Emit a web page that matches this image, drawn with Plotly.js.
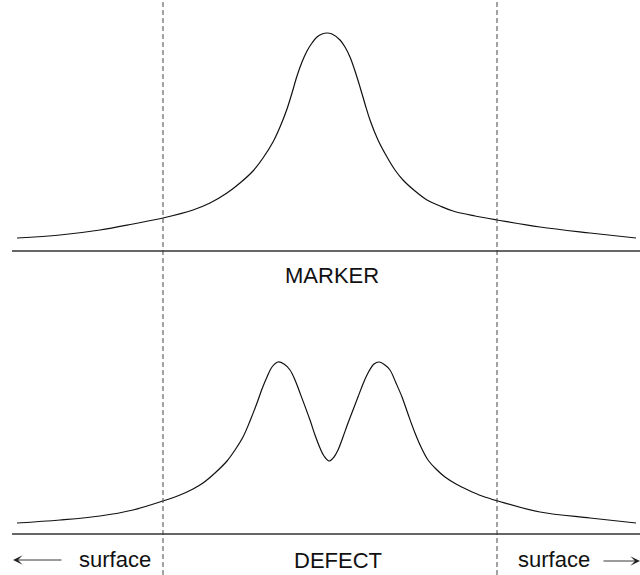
<!DOCTYPE html>
<html>
<head>
<meta charset="utf-8">
<script src="https://cdn.plot.ly/plotly-3.0.1.min.js"></script>
<style>html,body{margin:0;padding:0;background:#fff;}#chart{width:640px;height:575px;}</style>
</head>
<body>
<div id="chart"></div>
<script>
// Position along the sample (same scale for both panels)
const markerX = [17,60,100,133,163,193,210,227,240,253,263,273,280,287,292,297,302,307,312,317,322,327,332,340,345,350,355,360,365,370,378,387,395,403,415,427,440,453,475,497,540,590,636];
// MARKER profile: signal height above baseline
const markerSignal = [13,16,21,27,33,41,48,58,68,80,93,109,124,142,158,175,189,200,208,214,217,218,217,211,204,194,180,164,147,131,111,94,81,71,60,51,45,40,35,31,24,18,13];

const defectX = [17,60,100,133,163,180,193,203,215,227,235,243,250,257,262,267,272,278,284,290,295,300,310,315,320,324,329,334,338,343,348,358,363,368,374,379,385,390,396,402,408,415,421,428,436,445,456,468,482,498,540,590,636];
// DEFECT profile: signal height above baseline
const defectSignal = [11,14,18,24,33,39,45,51,61,73,84,97,113,131,145,157,167,172,170,164,154,141,114,99,86,78,73,77,84,97,111,137,150,161,170,172,169,164,151,137,120,101,87,74,65,57,50,44,38,33,22,16,11];

// Region boundaries (surface | bulk | surface)
const boundaries = [163, 497];
const panelLabels = ['MARKER', 'DEFECT'];
const sideLabel = 'surface';

const lineStyle = {color: '#111', width: 1.2, shape: 'spline', smoothing: 1};

const traces = [
  {x: markerX, y: markerSignal, xaxis: 'x', yaxis: 'y', mode: 'lines', line: lineStyle, hoverinfo: 'skip'},
  {x: defectX, y: defectSignal, xaxis: 'x', yaxis: 'y2', mode: 'lines', line: lineStyle, hoverinfo: 'skip'}
];

const shapes = [];
boundaries.forEach(b => shapes.push({type: 'line', xref: 'x', yref: 'paper', x0: b, x1: b, y0: 0, y1: 1,
  line: {color: '#444', width: 1, dash: '5px,3px'}}));
['y', 'y2'].forEach(yr => shapes.push({type: 'line', xref: 'x', yref: yr, x0: 12, x1: 640, y0: 0, y1: 0,
  line: {color: '#333', width: 1.5}}));

const font = {family: 'Liberation Sans, Arial, sans-serif', size: 22, color: '#111'};
const annotations = [
  {text: panelLabels[0], x: 331.5, y: -24, xref: 'x', yref: 'y', showarrow: false, font: font, xanchor: 'center', yanchor: 'middle'},
  {text: panelLabels[1], x: 337.5, y: -26, xref: 'x', yref: 'y2', showarrow: false, font: font, xanchor: 'center', yanchor: 'middle'},
  {text: sideLabel, x: 114.5, y: -25, xref: 'x', yref: 'y2', showarrow: false, font: font, xanchor: 'center', yanchor: 'middle'},
  {text: sideLabel, x: 553.5, y: -25, xref: 'x', yref: 'y2', showarrow: false, font: font, xanchor: 'center', yanchor: 'middle'},
  {text: '', x: 13, y: -26, xref: 'x', yref: 'y2', ax: 63, ay: -26, axref: 'x', ayref: 'y2', showarrow: true,
   arrowhead: 3, arrowsize: 1.8, arrowwidth: 0.9, arrowcolor: '#222'},
  {text: '', x: 640, y: -27, xref: 'x', yref: 'y2', ax: 602, ay: -27, axref: 'x', ayref: 'y2', showarrow: true,
   arrowhead: 3, arrowsize: 1.8, arrowwidth: 0.9, arrowcolor: '#222'}
];

const hidden = {visible: false, showgrid: false, zeroline: false, fixedrange: true};
const layout = {
  width: 640, height: 575,
  margin: {l: 0, r: 0, t: 0, b: 0},
  paper_bgcolor: '#fff', plot_bgcolor: '#fff',
  showlegend: false,
  xaxis: Object.assign({range: [0, 640], domain: [0, 1]}, hidden),
  yaxis: Object.assign({range: [-32, 251], domain: [292/575, 1]}, hidden),
  yaxis2: Object.assign({range: [-41, 251], domain: [0, 292/575], anchor: 'x'}, hidden),
  shapes: shapes,
  annotations: annotations
};

Plotly.newPlot('chart', traces, layout, {staticPlot: true, displayModeBar: false});
</script>
</body>
</html>
